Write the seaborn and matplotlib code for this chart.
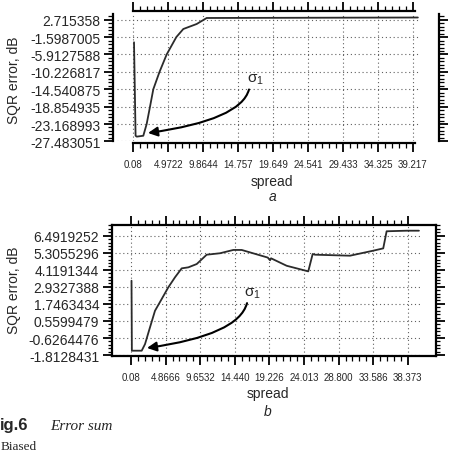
import numpy as np
import pandas as pd
import matplotlib
matplotlib.use('Agg')
import matplotlib.pyplot as plt
from matplotlib.ticker import FixedLocator, FixedFormatter, AutoMinorLocator
import seaborn as sns

# ---------------- data ----------------
# panel a
spread_a = [0.18, 0.40, 0.56, 1.48, 1.95, 2.42, 2.88, 3.75, 4.75, 6.10, 7.08, 8.95, 10.35, 39.9]
err_a = [-2.89, -26.08, -26.3, -26.08, -23.17, -18.85, -14.54, -10.23, -5.91, -1.60, 0.41, 1.65, 3.14, 3.26]
xtick_a = ["0.08", "4.9722", "9.8644", "14.757", "19.649", "24.541", "29.433", "34.325", "39.217"]
ytick_a = ["2.715358", "-1.5987005", "-5.9127588", "-10.226817", "-14.540875",
           "-18.854935", "-23.168993", "-27.483051"]

# panel b
spread_b = [0.15, 0.20, 1.56, 2.02, 2.71, 3.40, 4.33, 5.24, 6.17, 7.09, 8.01, 9.17, 10.55,
            12.39, 14.23, 15.39, 19.0, 19.31, 19.45, 21.61, 24.60, 25.21, 25.53, 30.37,
            33.59, 34.97, 35.44, 38.21, 39.91]
err_b = [3.36, -1.51, -1.51, -1.05, 0.12, 1.27, 2.09, 2.90, 3.60, 4.22, 4.29, 4.52, 5.17,
         5.27, 5.50, 5.50, 4.97, 4.78, 4.92, 4.40, 4.01, 5.22, 5.17, 5.10,
         5.45, 5.61, 6.80, 6.84, 6.84]
xtick_b = ["0.08", "4.8666", "9.6532", "14.440", "19.226", "24.013", "28.800", "33.586", "38.373"]
ytick_b = ["6.4919252", "5.3055296", "4.1191344", "2.9327388", "1.7463434",
           "0.5599479", "-0.6264476", "-1.8128431"]

# ---------------- style ----------------
sns.set_style("ticks")
plt.rcParams['font.family'] = ['Liberation Sans', 'DejaVu Sans']
plt.rcParams['axes.unicode_minus'] = False

W, H = 453, 452
fig = plt.figure(figsize=(W / 100, H / 100), dpi=100)


def rect(l, t, r, b):
    return [l / W, 1 - b / H, (r - l) / W, (b - t) / H]


ax1 = fig.add_axes(rect(117, 15, 420, 142.4))
ax2 = fig.add_axes(rect(111.7, 226, 436, 356.7))

line_col = '#2b2b2b'
grid_ls = (0, (1, 2.5))


def minor_list(vals, n=5):
    out = []
    for a, b in zip(vals[:-1], vals[1:]):
        step = (b - a) / n
        out += [a + k * step for k in range(1, n)]
    return out


def style_axis(ax, xvals, xlabels, yvals, ylabels):
    ax.set_xlabel('')
    ax.set_ylabel('')
    ax.xaxis.set_major_locator(FixedLocator(xvals))
    ax.xaxis.set_major_formatter(FixedFormatter(xlabels))
    ax.xaxis.set_minor_locator(FixedLocator(minor_list(xvals)))
    ax.yaxis.set_major_locator(FixedLocator(yvals))
    ax.yaxis.set_major_formatter(FixedFormatter(ylabels))
    ax.yaxis.set_minor_locator(AutoMinorLocator(5))
    ax.tick_params(axis='both', which='major', direction='out', length=6.5, width=1.3,
                   color='black')
    ax.tick_params(axis='both', which='minor', direction='out', length=3.5, width=0.9,
                   color='black')
    ax.tick_params(axis='x', which='both', top=True, bottom=True, labeltop=False)
    ax.tick_params(axis='y', which='both', left=True, right=True, labelright=False)
    ax.tick_params(axis='x', labelsize=7, pad=5)
    ax.tick_params(axis='y', labelsize=10, pad=2.5)
    for s in ax.spines.values():
        s.set_visible(True)
        s.set_linewidth(1.6)
        s.set_color('black')


# ---------------- panel a ----------------
xv_a = [float(v) for v in xtick_a]
yv_a = [float(v) for v in ytick_a]
df_a = pd.DataFrame({'spread': spread_a, 'err': err_a})
sns.lineplot(data=df_a, x='spread', y='err', ax=ax1, sort=False, estimator=None,
             color=line_col, lw=1.3)
ax1.set_xlim(-2.201, 40.2)
ax1.set_ylim(-27.483051, 4.13)
style_axis(ax1, xv_a, xtick_a, yv_a, ytick_a)
ax1.grid(True, which='major', linestyle=grid_ls, color='#606060', lw=0.8)
ax1.spines['left'].set_position(('outward', 3))
ax1.spines['right'].set_position(('outward', 13.7))
ax1.spines['bottom'].set_position(('outward', 1))
ax1.spines['top'].set_position(('outward', 2))
ax1.spines['bottom'].set_bounds(0.08, 39.5)
ax1.spines['top'].set_bounds(0.08, 39.5)

ax1.text(17.11, -12.0, r'$\mathregular{\sigma_1}$', fontsize=11, ha='center', va='center')
ax1.annotate('', xy=(2.14, -25.4), xytext=(16.27, -14.6),
             arrowprops=dict(arrowstyle='-|>', connectionstyle='angle3,angleA=75,angleB=8',
                             lw=1.5, color='black', mutation_scale=14,
                             shrinkA=0, shrinkB=0))

# ---------------- panel b ----------------
xv_b = [float(v) for v in xtick_b]
yv_b = [float(v) for v in ytick_b]
df_b = pd.DataFrame({'spread': spread_b, 'err': err_b})
sns.lineplot(data=df_b, x='spread', y='err', ax=ax2, sort=False, estimator=None,
             color=line_col, lw=1.3)
ax2.set_xlim(-2.59, 42.27)
ax2.set_ylim(-1.858, 7.2364)
style_axis(ax2, xv_b, xtick_b, yv_b, ytick_b)
ax2.grid(True, axis='x', which='major', linestyle=grid_ls, color='#606060', lw=0.8)
ax2.hlines(yv_b, -2.13, 40.05, linestyles=[grid_ls], colors='#606060', lw=0.8, zorder=0.5)
ax2.tick_params(axis='y', which='minor', right=True, length=3)

ax2.text(16.82, 2.505, r'$\mathregular{\sigma_1}$', fontsize=11, ha='center', va='center')
ax2.annotate('', xy=(2.29, -1.32), xytext=(16.13, 1.80),
             arrowprops=dict(arrowstyle='-|>', connectionstyle='angle3,angleA=75,angleB=8',
                             lw=1.5, color='black', mutation_scale=14,
                             shrinkA=0, shrinkB=0))

# ---------------- figure texts ----------------
fig.text(14 / W, 1 - 80 / H, 'SQR error, dB', rotation=90, ha='center', va='center', fontsize=10)
fig.text(14 / W, 1 - 290 / H, 'SQR error, dB', rotation=90, ha='center', va='center', fontsize=10)
fig.text(272 / W, 1 - 182 / H, 'spread', ha='center', va='center', fontsize=10)
fig.text(273 / W, 1 - 197 / H, 'a', ha='center', va='center', fontsize=10, style='italic')
fig.text(268 / W, 1 - 394 / H, 'spread', ha='center', va='center', fontsize=10)
fig.text(268 / W, 1 - 412 / H, 'b', ha='center', va='center', fontsize=10, style='italic')
fig.text(0 / W, 1 - 430 / H, 'ig.6', ha='left', va='baseline', fontsize=12, weight='bold')
fig.text(50 / W, 1 - 430 / H, 'Error sum', ha='left', va='baseline', fontsize=11,
         family='Liberation Serif', style='italic')
fig.text(1 / W, 1 - 450 / H, 'Biased', ha='left', va='baseline', fontsize=9.5,
         family='Liberation Serif')

fig.savefig('out.png', dpi=100)
